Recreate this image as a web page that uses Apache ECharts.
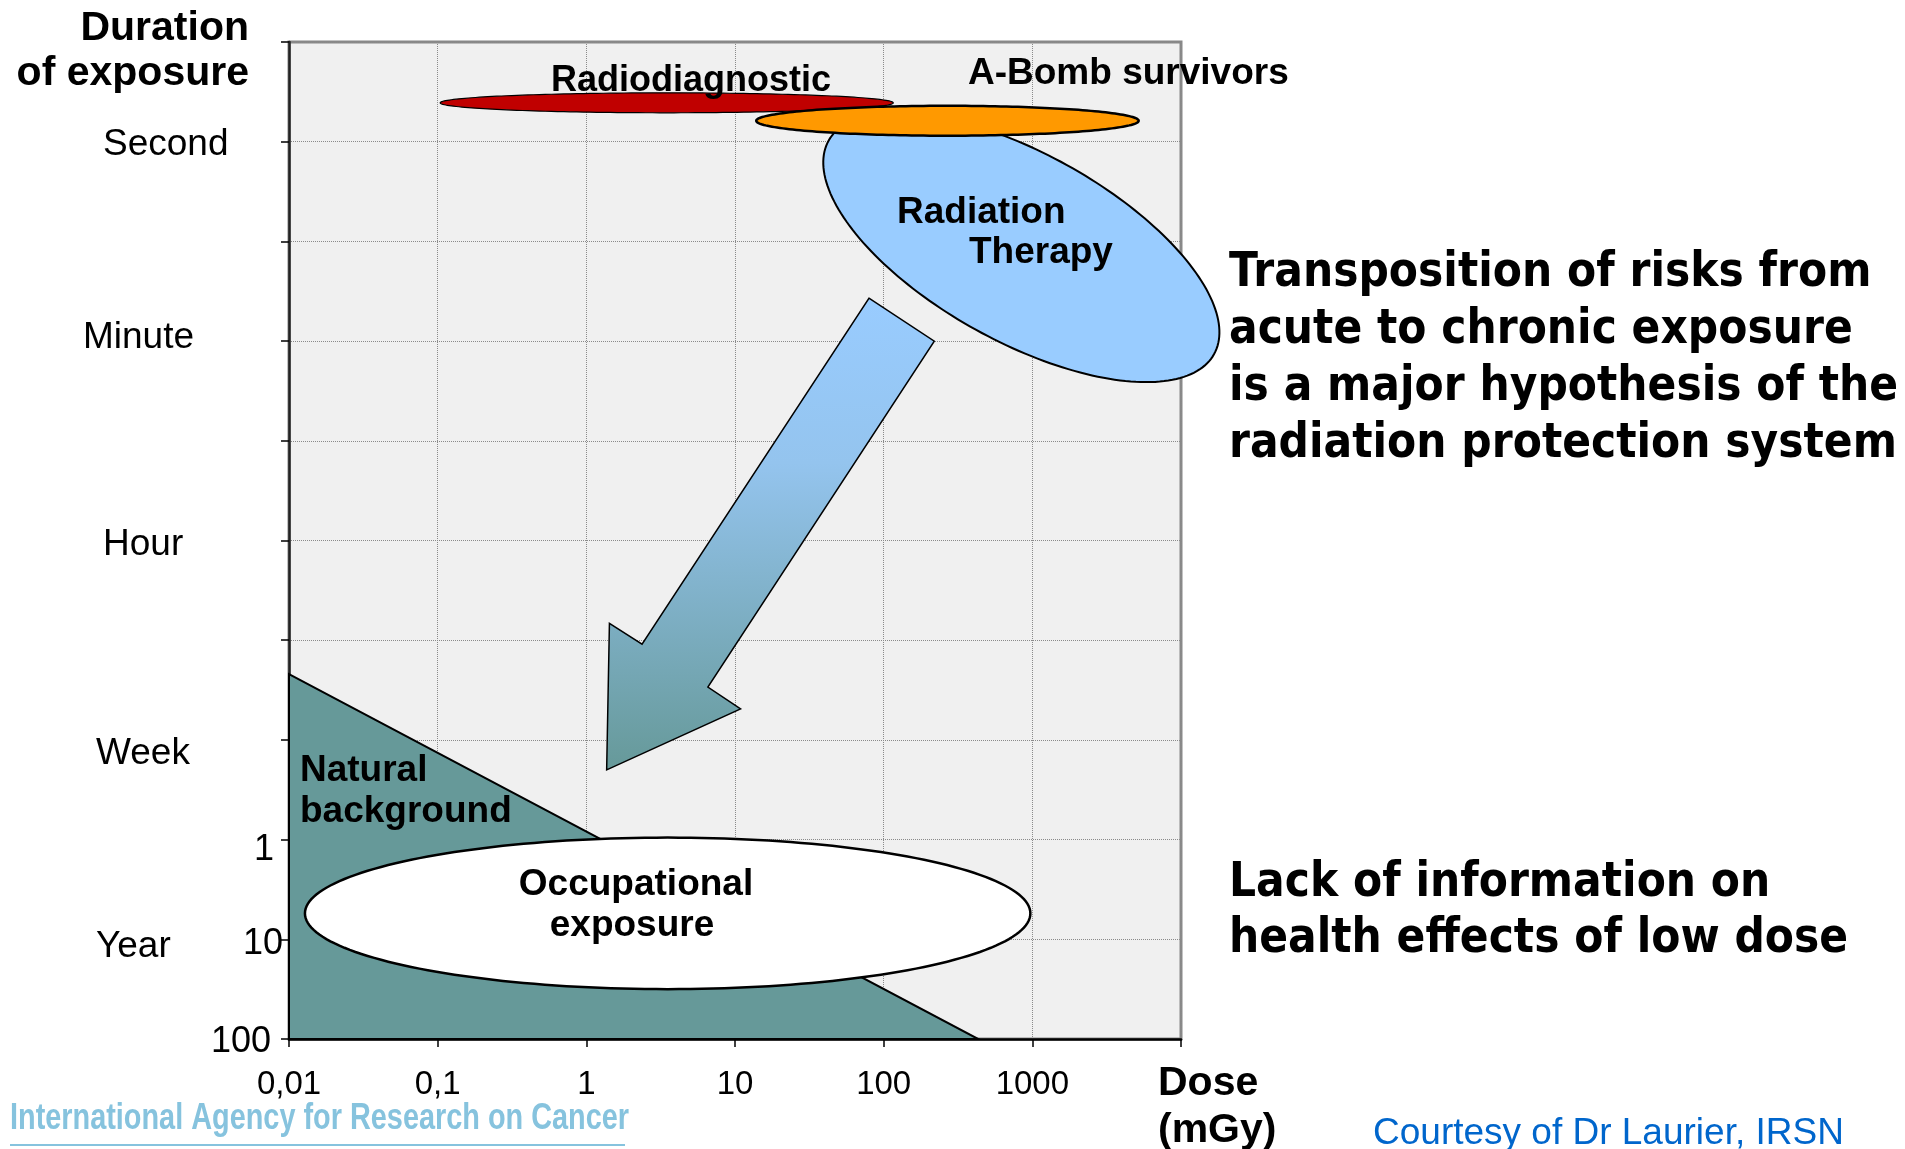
<!DOCTYPE html>
<html>
<head>
<meta charset="utf-8">
<script src="https://cdn.jsdelivr.net/npm/echarts@6/dist/echarts.min.js"></script>
<style>
  html, body { margin: 0; padding: 0; background: #ffffff; }
  #chart { width: 1905px; height: 1149px; }
</style>
</head>
<body>
<div id="chart"></div>
<script>
// ---------- Axis ticks and labels ----------
const doseTickLabels = ['0,01', '0,1', '1', '10', '100', '1000', ''];   // mGy, decades 0.01 .. 10000
const durationWordTicks = [1, 3, 5, 7, 9];
const durationWordLabels = ['Second', 'Minute', 'Hour', 'Week', 'Year'];
const durationYearTicks = [8, 9, 10];
const durationYearLabels = ['1', '10', '100'];

// ---------- Exposure regions: [dose (mGy), duration index] ----------
// axis-aligned ellipses given by their bounding-box corners
const radiodiagnostic = [[0.104, 0.51], [116, 0.71]];
const aBombSurvivors = [[13.9, 0.64], [5190, 0.94]];
const occupationalExposure = [[0.0128, 7.98], [970, 9.50]];
// rotated ellipse given by the two ends of its major axis
const radiationTherapyAxis = [[42.6, 0.99], [16700, 3.13]];
const radiationTherapyMinorRatio = 0.427;
// natural background triangle
const naturalBackground = [[0.01, 6.34], [433, 10], [0.01, 10]];
// transposition arrow outline
const transpositionArrow = [[79.6, 2.57], [219, 3.0], [6.57, 6.47], [10.9, 6.69], [1.37, 7.30], [1.43, 5.83], [2.37, 6.04]];

const AR = 'Liberation Sans, Arial, sans-serif';
const DV = 'DejaVu Sans, Verdana, sans-serif';

function ellipsePoints(cx, cy, a, b, ang) {
  const pts = [];
  const N = 200;
  const ca = Math.cos(ang), sa = Math.sin(ang);
  for (let i = 0; i < N; i++) {
    const t = (i / N) * Math.PI * 2;
    const x = a * Math.cos(t), y = b * Math.sin(t);
    pts.push([cx + x * ca - y * sa, cy + x * sa + y * ca]);
  }
  return pts;
}

function boxEllipseSeries(name, box, style, z) {
  return {
    type: 'custom', name, coordinateSystem: 'cartesian2d', clip: false, silent: true, z,
    data: box,
    renderItem: function (params, api) {
      if (params.dataIndex !== 0) return null;
      const p0 = api.coord(box[0]);
      const p1 = api.coord(box[1]);
      const cx = (p0[0] + p1[0]) / 2, cy = (p0[1] + p1[1]) / 2;
      const rx = Math.abs(p1[0] - p0[0]) / 2, ry = Math.abs(p1[1] - p0[1]) / 2;
      return { type: 'polygon', shape: { points: ellipsePoints(cx, cy, rx, ry, 0) }, style };
    }
  };
}

function rotatedEllipseSeries(name, axisPts, ratio, style, z) {
  return {
    type: 'custom', name, coordinateSystem: 'cartesian2d', clip: false, silent: true, z,
    data: axisPts,
    renderItem: function (params, api) {
      if (params.dataIndex !== 0) return null;
      const p0 = api.coord(axisPts[0]);
      const p1 = api.coord(axisPts[1]);
      const cx = (p0[0] + p1[0]) / 2, cy = (p0[1] + p1[1]) / 2;
      const dx = p1[0] - p0[0], dy = p1[1] - p0[1];
      const a = Math.sqrt(dx * dx + dy * dy) / 2;
      return { type: 'polygon', shape: { points: ellipsePoints(cx, cy, a, a * ratio, Math.atan2(dy, dx)) }, style };
    }
  };
}

function polygonSeries(name, pts, style, z) {
  return {
    type: 'custom', name, coordinateSystem: 'cartesian2d', clip: false, silent: true, z,
    data: pts,
    renderItem: function (params, api) {
      if (params.dataIndex !== 0) return null;
      return { type: 'polygon', shape: { points: pts.map(p => api.coord(p)) }, style };
    }
  };
}

const chart = echarts.init(document.getElementById('chart'), null, { renderer: 'canvas' });

const wordRich = {
  w0: { fontFamily: AR, fontSize: 37, color: '#000', padding: [6, 0, 0, 20] },
  w1: { fontFamily: AR, fontSize: 37, color: '#000', padding: [0, 0, 6, 0] },
  w2: { fontFamily: AR, fontSize: 37, color: '#000', padding: [8, 0, 0, 20] },
  w3: { fontFamily: AR, fontSize: 37, color: '#000', padding: [28, 0, 0, 13] },
  w4: { fontFamily: AR, fontSize: 37, color: '#000', padding: [14, 0, 0, 13] }
};
const yearRich = {
  n0: { fontFamily: AR, fontSize: 36, color: '#000', padding: [20, 9, 0, 0] },
  n1: { fontFamily: AR, fontSize: 36, color: '#000', padding: [10, 0, 0, 0] },
  n2: { fontFamily: AR, fontSize: 36, color: '#000', padding: [7, 12, 0, 0] }
};

const option = {
  backgroundColor: '#ffffff',
  animation: false,
  grid: {
    left: 289, right: 724, top: 42, bottom: 110,
    show: true, backgroundColor: '#f0f0f0', borderColor: '#888888', borderWidth: 3,
    outerBoundsMode: 'none', containLabel: false
  },
  xAxis: {
    type: 'log', logBase: 10, min: 0.01, max: 10000, splitNumber: 6,
    axisLine: { show: true, onZero: false, lineStyle: { color: '#000', width: 2.5 } },
    axisTick: { show: true, length: 8, inside: false, lineStyle: { color: '#000', width: 1.5 } },
    minorTick: { show: false },
    splitLine: { show: true, lineStyle: { type: 'dotted', color: '#8a8a8a', width: 1 } },
    axisLabel: {
      show: true, margin: 29, fontFamily: AR, fontSize: 33, color: '#000', lineHeight: 33,
      showMinLabel: true, showMaxLabel: true, hideOverlap: false,
      formatter: function (v) {
        const i = Math.round(Math.log10(v)) + 2;
        return doseTickLabels[i] || '';
      }
    }
  },
  yAxis: [
    {
      type: 'value', min: 0, max: 10, interval: 1, inverse: true, position: 'left',
      axisLine: { show: true, onZero: false, lineStyle: { color: '#222', width: 2.5 } },
      axisTick: { show: true, length: 8, inside: false, lineStyle: { color: '#000', width: 1.5 } },
      splitLine: { show: true, lineStyle: { type: 'dotted', color: '#8a8a8a', width: 1 } },
      axisLabel: {
        show: true, margin: 206, align: 'left', verticalAlign: 'middle', showMinLabel: true, showMaxLabel: true,
        fontFamily: AR, fontSize: 37, color: '#000',
        formatter: function (v) {
          const i = durationWordTicks.indexOf(Math.round(v));
          return i < 0 ? '' : '{w' + i + '|' + durationWordLabels[i] + '}';
        },
        rich: wordRich
      }
    },
    {
      type: 'value', min: 0, max: 10, interval: 1, inverse: true, position: 'left', offset: 0,
      axisLine: { show: false }, axisTick: { show: false }, splitLine: { show: false },
      axisLabel: {
        show: true, margin: 6, align: 'right', verticalAlign: 'middle', showMinLabel: true, showMaxLabel: true,
        fontFamily: AR, fontSize: 36, color: '#000',
        formatter: function (v) {
          const i = durationYearTicks.indexOf(Math.round(v));
          return i < 0 ? '' : '{n' + i + '|' + durationYearLabels[i] + '}';
        },
        rich: yearRich
      }
    }
  ],
  series: [
    polygonSeries('Natural background', naturalBackground, { fill: '#669999', stroke: '#000', lineWidth: 2 }, 2),
    boxEllipseSeries('Occupational exposure', occupationalExposure, { fill: '#ffffff', stroke: '#000', lineWidth: 2.5 }, 3),
    polygonSeries('Transposition', transpositionArrow, {
      fill: new echarts.graphic.LinearGradient(0, 0, 0, 1, [
        { offset: 0, color: '#99ccff' }, { offset: 0.35, color: '#94c4ee' }, { offset: 1, color: '#669999' }
      ]),
      stroke: '#000', lineWidth: 1.5, lineJoin: 'miter'
    }, 4),
    rotatedEllipseSeries('Radiation Therapy', radiationTherapyAxis, radiationTherapyMinorRatio, { fill: '#99ccff', stroke: '#000', lineWidth: 2 }, 5),
    boxEllipseSeries('Radiodiagnostic', radiodiagnostic, { fill: '#c00000', stroke: '#000', lineWidth: 1.2 }, 6),
    boxEllipseSeries('A-Bomb survivors', aBombSurvivors, { fill: '#ff9900', stroke: '#000', lineWidth: 2.5 }, 7)
  ],
  graphic: [
    // y axis title
    { type: 'text', z: 100, x: 249, y: 29, style: { text: 'Duration', font: 'bold 41px ' + AR, fill: '#000', align: 'right', verticalAlign: 'middle' } },
    { type: 'text', z: 100, x: 249, y: 74, style: { text: 'of exposure', font: 'bold 41px ' + AR, fill: '#000', align: 'right', verticalAlign: 'middle' } },
    // x axis title
    { type: 'text', z: 100, x: 1158, y: 1084, style: { text: 'Dose', font: 'bold 41px ' + AR, fill: '#000', align: 'left', verticalAlign: 'middle' } },
    { type: 'text', z: 100, x: 1158, y: 1131, style: { text: '(mGy)', font: 'bold 41px ' + AR, fill: '#000', align: 'left', verticalAlign: 'middle' } },
    // region labels
    { type: 'text', z: 100, x: 691, y: 81, style: { text: 'Radiodiagnostic', font: 'bold 36px ' + AR, fill: '#000', align: 'center', verticalAlign: 'middle' } },
    { type: 'text', z: 100, x: 968, y: 74, style: { text: 'A-Bomb survivors', font: 'bold 37px ' + AR, fill: '#000', align: 'left', verticalAlign: 'middle' } },
    { type: 'text', z: 100, x: 897, y: 213, style: { text: 'Radiation', font: 'bold 37px ' + AR, fill: '#000', align: 'left', verticalAlign: 'middle' } },
    { type: 'text', z: 100, x: 969, y: 253, style: { text: 'Therapy', font: 'bold 37px ' + AR, fill: '#000', align: 'left', verticalAlign: 'middle' } },
    { type: 'text', z: 100, x: 300, y: 771, style: { text: 'Natural', font: 'bold 37px ' + AR, fill: '#000', align: 'left', verticalAlign: 'middle' } },
    { type: 'text', z: 100, x: 300, y: 812, style: { text: 'background', font: 'bold 37px ' + AR, fill: '#000', align: 'left', verticalAlign: 'middle' } },
    { type: 'text', z: 100, x: 636, y: 885, style: { text: 'Occupational', font: 'bold 37px ' + AR, fill: '#000', align: 'center', verticalAlign: 'middle' } },
    { type: 'text', z: 100, x: 632, y: 926, style: { text: 'exposure', font: 'bold 37px ' + AR, fill: '#000', align: 'center', verticalAlign: 'middle' } },
    // right-hand statements
    { type: 'text', z: 100, x: 1229, y: 274, scaleX: 0.885, style: { text: 'Transposition of risks from', font: 'bold 48px ' + DV, fill: '#000', align: 'left', verticalAlign: 'middle' } },
    { type: 'text', z: 100, x: 1229, y: 331, scaleX: 0.885, style: { text: 'acute to chronic exposure', font: 'bold 48px ' + DV, fill: '#000', align: 'left', verticalAlign: 'middle' } },
    { type: 'text', z: 100, x: 1229, y: 388, scaleX: 0.885, style: { text: 'is a major hypothesis of the', font: 'bold 48px ' + DV, fill: '#000', align: 'left', verticalAlign: 'middle' } },
    { type: 'text', z: 100, x: 1229, y: 445, scaleX: 0.885, style: { text: 'radiation protection system', font: 'bold 48px ' + DV, fill: '#000', align: 'left', verticalAlign: 'middle' } },
    { type: 'text', z: 100, x: 1229, y: 884, scaleX: 0.885, style: { text: 'Lack of information on', font: 'bold 48px ' + DV, fill: '#000', align: 'left', verticalAlign: 'middle' } },
    { type: 'text', z: 100, x: 1229, y: 940, scaleX: 0.885, style: { text: 'health effects of low dose', font: 'bold 48px ' + DV, fill: '#000', align: 'left', verticalAlign: 'middle' } },
    // credits
    { type: 'text', z: 100, x: 1373, y: 1134, style: { text: 'Courtesy of Dr Laurier, IRSN', font: '37px ' + AR, fill: '#0066cc', align: 'left', verticalAlign: 'middle' } },
    { type: 'text', z: 100, x: 10, y: 1119, scaleX: 0.78, style: { text: 'International Agency for Research on Cancer', font: 'bold 37px ' + AR, fill: '#86c3de', align: 'left', verticalAlign: 'middle' } },
    { type: 'line', z: 100, shape: { x1: 10, y1: 1145, x2: 625, y2: 1145 }, style: { stroke: '#86c3de', lineWidth: 2 } }
  ]
};

chart.setOption(option);
</script>
</body>
</html>
